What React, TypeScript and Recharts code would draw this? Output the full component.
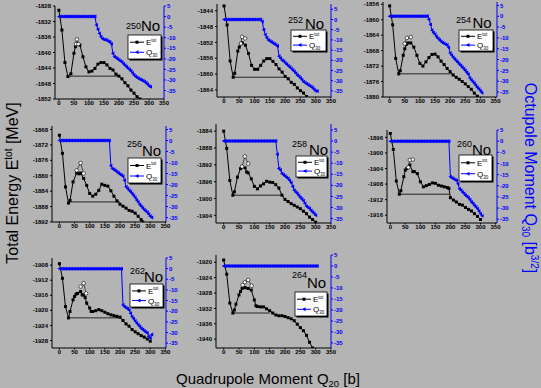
import React from 'react';
import { ComposedChart, Line, XAxis, YAxis } from 'recharts';

type Pt = [number, number];

/* ---------- shared axes ---------- */
const Q20_TICKS = [0, 50, 100, 150, 200, 250, 300, 350];
const Q30_TICKS = [5, 0, -5, -10, -15, -20, -25, -30, -35];
// Q30 curves are sampled on this Q20 grid
const Q20_GRID = [
  0, 5, 10, 15, 20, 25, 30, 35, 40, 45, 50, 55, 60, 65, 70, 75, 80, 85, 90, 95,
  100, 105, 110, 115, 120, 125, 130, 135, 140, 145, 150, 155, 160, 165, 170, 175, 180, 185, 190, 195,
  200, 205, 210, 215, 220, 225, 230, 235, 240, 245, 250, 255, 260, 265, 270, 275, 280, 285, 290, 295,
  300, 305,
];

/* ---------- 250No ---------- */
const E250_TICKS = [-1852, -1848, -1844, -1840, -1836, -1832, -1828];
const E250: Pt[] = [
  [0, -1829.1], [10, -1834.2], [20, -1842.6], [30, -1846.2], [40, -1845.5], [50, -1840.2], [55, -1838.5],
  [60, -1837.7], [70, -1838.1], [80, -1841.1], [90, -1843.7], [100, -1845], [110, -1844.8], [120, -1844.1],
  [130, -1843], [140, -1842.6], [150, -1842.6], [160, -1843.2], [170, -1844.1], [180, -1844.5], [190, -1845.6],
  [200, -1846.1], [210, -1846.8], [220, -1847.8], [230, -1848.6], [240, -1849.7], [250, -1850.5], [260, -1851.4],
  [270, -1852],
];
const E250_OPEN: Pt[] = [[57, -1837.8], [60, -1836.6], [65, -1837.8]];
const E250_FLAT: Pt[] = [[30, -1846.1], [202, -1846.1]];
const Q250 = [
  0, 0, 0, 0, 0, 0, 0, 0, 0, 0,
  0, 0, 0, 0, 0, 0, 0, 0, 0, 0,
  0, 0, 0, 0, 0,
  -4, -6, -8, -9.5, -10.5, -10.8, -11, -11.2, -11.8, -12,
  -13, -17.5, -19, -19.5, -20, -20.5, -21, -21.5, -22.3, -23,
  -23.8, -24.5, -25, -25.7, -26.7, -27.7, -28.3, -28.8, -29.3, -29.7,
  -30, -30.4, -30.8, -31.3, -32, -32.9, -33.2,
];

/* ---------- 252No ---------- */
const E252_TICKS = [-1864, -1860, -1856, -1852, -1848, -1844];
const E252: Pt[] = [
  [0, -1842.8], [10, -1847.6], [20, -1856.7], [30, -1860.8], [35, -1859.8], [45, -1854.2], [50, -1853.2],
  [55, -1852.3], [60, -1852.1], [70, -1852.7], [80, -1854.8], [90, -1857.8], [100, -1858.8], [110, -1858.8],
  [120, -1857.8], [130, -1856.7], [140, -1856.1], [150, -1856.1], [160, -1856.8], [170, -1857.6], [180, -1858.7],
  [190, -1859.5], [200, -1860.6], [210, -1861.2], [220, -1862.1], [230, -1862.6], [240, -1863.5], [250, -1864.2],
  [260, -1864.8], [270, -1865.7],
];
const E252_OPEN: Pt[] = [[55, -1852.3], [59, -1850.6], [69, -1851]];
const E252_FLAT: Pt[] = [[30, -1860.8], [200, -1860.8]];
const Q252 = [
  0, 0, 0, 0, 0, 0, 0, 0, 0, 0,
  0, 0, 0, 0, 0, 0, 0, 0, 0, 0,
  0, 0, 0, 0, 0,
  -1, -5, -7.5, -9, -10, -10.5, -11, -11.5, -12, -12.5,
  -13, -18, -19, -20, -20.5, -21.2, -22, -22.7, -23.3, -24,
  -24.7, -25.5, -26.3, -27.3, -28, -28.7, -29.5, -30.5, -31, -31.5,
  -32, -32.5, -33, -33.5, -34.3, -35, -35,
];

/* ---------- 254No ---------- */
const E254_TICKS = [-1880, -1876, -1872, -1868, -1864, -1860, -1856];
const E254: Pt[] = [
  [0, -1856.4], [10, -1861.3], [20, -1870], [30, -1874], [35, -1873.2], [45, -1869.2], [50, -1867.5],
  [55, -1866.4], [60, -1866], [70, -1866], [80, -1867.1], [90, -1869.2], [100, -1871.3], [110, -1872],
  [120, -1870.9], [130, -1869.8], [140, -1869], [150, -1868.9], [160, -1869.6], [170, -1870.7], [180, -1871.6],
  [190, -1872.6], [200, -1873.4], [210, -1874.3], [220, -1874.9], [230, -1875.4], [240, -1876], [250, -1876.6],
  [260, -1877.3], [270, -1878], [280, -1879], [290, -1879.8],
];
const E254_OPEN: Pt[] = [[50, -1866.2], [57, -1864.7], [70, -1864.5]];
const E254_FLAT: Pt[] = [[30, -1874], [208, -1874]];
const Q254 = [
  0, 0, 0, 0, 0, 0, 0, 0, 0, 0,
  0, 0, 0, 0, 0, 0, 0, 0, 0, 0,
  0, 0, 0, 0, 0, 0,
  -1.5, -3.8, -6.5, -7.6, -8.3, -9.5, -10.3, -11, -11.7, -12.2,
  -12.6, -13, -13.3, -14.4, -17, -18, -18.9, -19.7, -20.5, -21.2,
  -22, -22.8, -23.5, -24.3, -25, -26, -26.8, -28.5, -29.5, -30.3,
  -31, -32, -32.9, -33.6, -34.4, -35.3,
];

/* ---------- 256No ---------- */
const E256_TICKS = [-1892, -1888, -1884, -1880, -1876, -1872, -1868];
const E256: Pt[] = [
  [0, -1869.5], [10, -1874.2], [20, -1882.9], [30, -1887.1], [35, -1886.4], [45, -1881.6], [57, -1879.3],
  [65, -1879.5], [70, -1879.3], [80, -1880.7], [90, -1882.5], [100, -1884.6], [110, -1885.3], [120, -1884.8],
  [130, -1883.8], [140, -1882.2], [150, -1882.5], [160, -1882.7], [170, -1883.9], [180, -1885.3], [190, -1886.5],
  [200, -1887.4], [210, -1887.9], [220, -1888.4], [230, -1889], [240, -1889.2], [250, -1889.7], [260, -1890.5],
  [270, -1891.4], [275, -1892],
];
const E256_OPEN: Pt[] = [[57, -1878.6], [70, -1876.7], [80, -1879.4]];
const E256_FLAT: Pt[] = [[30, -1886.8], [200, -1886.8]];
const Q256 = [
  0, 0, 0, 0, 0, 0, 0, 0, 0, 0,
  0, 0, 0, 0, 0, 0, 0, 0, 0, 0,
  0, 0, 0, 0, 0, 0, 0, 0, 0, 0,
  0, 0, 0, 0,
  -11.5, -12.8, -13.2, -13.7, -14.2, -14.8, -15.3, -15.8, -16.2, -18,
  -21, -21.8, -22.6, -23.3, -24.1, -25, -25.9, -27, -27.9, -29,
  -29.8, -30.6, -31.4, -32, -32.6, -33.5, -34.4, -35,
];

/* ---------- 258No ---------- */
const E258_TICKS = [-1904, -1900, -1896, -1892, -1888, -1884];
const E258: Pt[] = [
  [0, -1884], [10, -1888.1], [20, -1895.7], [30, -1899.2], [35, -1898.4], [45, -1894.9], [55, -1892.9],
  [60, -1892.5], [70, -1892.7], [75, -1893.7], [80, -1893.9], [90, -1895.3], [100, -1897.1], [110, -1897.7],
  [120, -1897], [130, -1896.5], [140, -1895.9], [150, -1896.1], [160, -1896.2], [170, -1896.7], [180, -1897.5],
  [190, -1899.2], [200, -1900.2], [210, -1900.7], [220, -1901.2], [230, -1901.6], [240, -1902], [250, -1902.4],
  [260, -1903], [270, -1903.6], [280, -1904.4], [290, -1905], [300, -1905.6],
];
const E258_OPEN: Pt[] = [[60, -1892.4], [69, -1890], [80, -1891.7]];
const E258_FLAT: Pt[] = [[30, -1899.2], [188, -1899.2]];
const Q258 = [
  0, 0, 0, 0, 0, 0, 0, 0, 0, 0,
  0, 0, 0, 0, 0, 0, 0, 0, 0, 0,
  0, 0, 0, 0, 0, 0, 0, 0, 0, 0,
  0, 0, 0, 0, 0,
  -6, -12.4, -13.1, -14.6, -15.2, -15.8, -16.4, -16.9, -17.8, -18.8,
  -20.5, -22.2, -23, -23.7, -24.6, -25.5, -26.2, -27, -28.2, -29.4,
  -30, -30.5, -31.3, -32, -32.7, -33.5,
];

/* ---------- 260No ---------- */
const E260_TICKS = [-1916, -1912, -1908, -1904, -1900, -1896];
const E260: Pt[] = [
  [0, -1895], [10, -1899.1], [20, -1907.2], [30, -1910.6], [35, -1909.7], [45, -1906.1], [50, -1904.4],
  [55, -1904], [60, -1903.7], [65, -1903.1], [75, -1904.8], [80, -1904.8], [90, -1905.3], [100, -1907.4],
  [110, -1908.7], [120, -1908.4], [130, -1908.1], [140, -1907.7], [150, -1907.8], [160, -1908.3], [170, -1908.5],
  [180, -1908.7], [190, -1908.9], [195, -1909.1], [200, -1911.5], [210, -1912.1], [220, -1912.6], [230, -1913.2],
  [240, -1913.4], [250, -1914], [260, -1914.5], [270, -1914.9], [280, -1915.6], [290, -1916.3], [300, -1917.1],
];
const E260_OPEN: Pt[] = [[60, -1903.7], [65, -1901.8], [75, -1901.7]];
const E260_FLAT: Pt[] = [[30, -1910.6], [197, -1910.6]];
const Q260 = [
  0, 0, 0, 0, 0, 0, 0, 0, 0, 0,
  0, 0, 0, 0, 0, 0, 0, 0, 0, 0,
  0, 0, 0, 0, 0, 0, 0, 0, 0, 0,
  0, 0, 0, 0, 0, 0, 0, 0, 0, 0,
  -16, -16.5, -16.9, -17.3, -17.6, -19.1, -21.3, -22, -22.8, -23.5,
  -24.3, -24.8, -25.4, -26.3, -27.3, -28, -28.8, -29.5, -30.3, -31.3,
  -32.5, -33.5,
];

/* ---------- 262No ---------- */
const E262_TICKS = [-1928, -1924, -1920, -1916, -1912, -1908];
const E262: Pt[] = [
  [0, -1907.6], [10, -1911.5], [20, -1919], [30, -1922], [35, -1920.3], [45, -1917.2], [50, -1916.3],
  [55, -1915.7], [60, -1915.5], [70, -1915], [75, -1915.9], [80, -1915.9], [85, -1916.6], [90, -1918.1],
  [100, -1919.4], [105, -1920.3], [110, -1920.3], [120, -1920.1], [130, -1919.8], [140, -1920.1], [150, -1920.5],
  [160, -1920.9], [170, -1921.2], [180, -1921.4], [190, -1921.6], [200, -1921.8], [210, -1922.7], [220, -1923.6],
  [230, -1924.2], [240, -1925.1], [250, -1925.7], [260, -1926.2], [270, -1926.7], [280, -1927.1], [290, -1927.6],
  [300, -1928.2],
];
const E262_OPEN: Pt[] = [[70, -1913.7], [80, -1912.8], [88, -1915.5]];
const E262_FLAT: Pt[] = [[30, -1922], [205, -1922]];
const Q262 = [
  0, 0, 0, 0, 0, 0, 0, 0, 0, 0,
  0, 0, 0, 0, 0, 0, 0, 0, 0, 0,
  0, 0, 0, 0, 0, 0, 0, 0, 0, 0,
  0, 0, 0, 0, 0, 0, 0, 0, 0, 0,
  0, 0,
  -17.1, -17.9, -18.4, -18.9, -19.4, -21, -22.6, -23.6, -24.6, -25.5,
  -26.4, -27.2, -28, -28.6, -29.2, -29.8, -30.3, -31.9, -32.7, -31,
];

/* ---------- 264No ---------- */
const E264_TICKS = [-1940, -1936, -1932, -1928, -1924, -1920];
const E264: Pt[] = [
  [0, -1919.4], [10, -1923.1], [20, -1930.6], [30, -1933.2], [35, -1932.4], [40, -1930.9], [50, -1928.5],
  [55, -1927.6], [60, -1926.8], [70, -1926.6], [80, -1926.8], [90, -1927.2], [100, -1929.8], [105, -1931.3],
  [110, -1931.5], [120, -1931.6], [130, -1931.6], [140, -1932.1], [150, -1932.6], [160, -1933.2], [170, -1933.7],
  [180, -1933.9], [190, -1933.9], [200, -1934.1], [210, -1934.4], [220, -1934.7], [230, -1935.2], [240, -1936.1],
  [250, -1937], [260, -1937.8], [270, -1939], [280, -1940.8], [290, -1942.3],
];
const E264_OPEN: Pt[] = [[62, -1925.9], [69, -1925.2], [80, -1924.6], [91, -1926.1]];
const E264_FLAT: Pt[] = [[30, -1933.2], [150, -1933.2]];
const Q264 = [
  0, 0, 0, 0, 0, 0, 0, 0, 0, 0,
  0, 0, 0, 0, 0, 0, 0, 0, 0, 0,
  0, 0, 0, 0, 0, 0, 0, 0, 0, 0,
  0, 0, 0, 0, 0, 0, 0, 0, 0, 0,
  0, 0, 0, 0, 0, 0, 0, 0, 0, 0,
  0, 0, 0, 0, 0, 0, 0, 0, 0, 0,
  0, 0,
];

/* ---------- panel layout (pixel positions of each plot box) ---------- */
const PANELS = [
  { mass: '250', e: E250, open: E250_OPEN, flat: E250_FLAT, q: Q250, eTicks: E250_TICKS,
    eDomain: [-1852, -1828], qDomain: [-39, 5], xDomain: [-13, 350],
    left: 55, top: 6, w: 109, h: 93, sup: [126, 28.5], no: [141, 31], legend: [128, 35, 33, 24] },
  { mass: '252', e: E252, open: E252_OPEN, flat: E252_FLAT, q: Q252, eTicks: E252_TICKS,
    eDomain: [-1865.8, -1842.3], qDomain: [-38, 7.6], xDomain: [-23, 350],
    left: 217, top: 4, w: 114, h: 93, sup: [288, 22.5], no: [305, 28.5], legend: [291, 30, 35, 21] },
  { mass: '254', e: E254, open: E254_OPEN, flat: E254_FLAT, q: Q254, eTicks: E254_TICKS,
    eDomain: [-1880, -1855.4], qDomain: [-37.3, 6.6], xDomain: [-22, 355],
    left: 383, top: 2, w: 114, h: 95, sup: [456, 22.5], no: [472.5, 28], legend: [459, 30, 34, 21] },
  { mass: '256', e: E256, open: E256_OPEN, flat: E256_FLAT, q: Q256, eTicks: E256_TICKS,
    eDomain: [-1892, -1867.1], qDomain: [-37, 6.6], xDomain: [-24.5, 352],
    left: 52, top: 126, w: 114, h: 96, sup: [127, 147], no: [142, 156], legend: [128, 158, 33, 25] },
  { mass: '258', e: E258, open: E258_OPEN, flat: E258_FLAT, q: Q258, eTicks: E258_TICKS,
    eDomain: [-1905.8, -1882.3], qDomain: [-37, 7.7], xDomain: [-25, 350],
    left: 216, top: 124, w: 115, h: 99, sup: [292, 147], no: [309, 155], legend: [296, 156, 31, 21] },
  { mass: '260', e: E260, open: E260_OPEN, flat: E260_FLAT, q: Q260, eTicks: E260_TICKS,
    eDomain: [-1918, -1894.1], qDomain: [-36.7, 5], xDomain: [-11, 355],
    left: 387, top: 130, w: 110, h: 93, sup: [457, 147], no: [472, 154.5], legend: [459, 155, 33, 26] },
  { mass: '262', e: E262, open: E262_OPEN, flat: E262_FLAT, q: Q262, eTicks: E262_TICKS,
    eDomain: [-1930, -1906.1], qDomain: [-37.3, 5], xDomain: [-24.5, 352],
    left: 52, top: 258, w: 114, h: 90, sup: [130, 273.5], no: [144, 282], legend: [130, 284, 33, 23] },
  { mass: '264', e: E264, open: E264_OPEN, flat: E264_FLAT, q: Q264, eTicks: E264_TICKS,
    eDomain: [-1942.3, -1918.1], qDomain: [-37.3, 5], xDomain: [-25, 350],
    left: 216, top: 255, w: 115, h: 93, sup: [292, 278], no: [307, 288], legend: [295, 292, 32, 24] },
];

const BLUE = '#0000ff';
const BG = '#b4b4b4';
const FONT = '"Liberation Sans", Arial, sans-serif';

const toRows = (pts: Pt[]) => pts.map(([x, y]) => ({ x, y }));
const gridRows = (vals: number[]) =>
  Q20_GRID.map((x, i) => ({ x, y: vals[i] })).filter(r => r.y !== undefined && r.y !== null);

const squareDot = (p: any) =>
  p.cx == null ? null : (
    <rect key={`s${p.index}`} x={p.cx - 1.5} y={p.cy - 1.5} width={3} height={3} fill="#000" />
  );
const openDot = (p: any) =>
  p.cx == null ? null : (
    <circle key={`o${p.index}`} cx={p.cx} cy={p.cy} r={1.8} fill="#fff" stroke="#000" strokeWidth={0.6} />
  );
const triDot = (p: any) =>
  p.cx == null ? null : (
    <polygon
      key={`t${p.index}`}
      points={`${p.cx - 2},${p.cy} ${p.cx + 1.5},${p.cy - 2} ${p.cx + 1.5},${p.cy + 2}`}
      fill={BLUE}
    />
  );

const tickStyle = { fontSize: 6, fontWeight: 700, fill: '#000', fontFamily: FONT };

function Panel({ p }: { p: (typeof PANELS)[number] }) {
  const AXL = 30;
  const AXR = 22;
  const TOP = 4;
  const XH = 12;
  return (
    <div style={{ position: 'absolute', left: p.left - AXL, top: p.top - TOP }}>
      <ComposedChart
        width={AXL + p.w + AXR}
        height={TOP + p.h + XH}
        margin={{ top: TOP, right: 0, bottom: 0, left: 0 }}
      >
        <XAxis
          xAxisId="b"
          dataKey="x"
          type="number"
          domain={p.xDomain}
          ticks={Q20_TICKS}
          interval={0}
          allowDataOverflow
          height={XH}
          stroke="#000"
          tickSize={1.5}
          tickMargin={0.5}
          tick={tickStyle}
        />
        <XAxis
          xAxisId="t"
          orientation="top"
          dataKey="x"
          type="number"
          domain={p.xDomain}
          allowDataOverflow
          height={0}
          tick={false}
          tickLine={false}
          stroke="#000"
        />
        <YAxis
          yAxisId="e"
          type="number"
          domain={p.eDomain}
          ticks={p.eTicks}
          interval={0}
          allowDataOverflow
          width={AXL}
          stroke="#000"
          tickSize={2}
          tickMargin={2}
          tick={tickStyle}
        />
        <YAxis
          yAxisId="q"
          orientation="right"
          type="number"
          domain={p.qDomain}
          ticks={Q30_TICKS}
          interval={0}
          allowDataOverflow
          width={AXR}
          stroke={BLUE}
          tickSize={2}
          tickMargin={1}
          tick={{ ...tickStyle, fill: BLUE }}
        />
        <Line
          xAxisId="b"
          yAxisId="e"
          data={toRows(p.flat)}
          dataKey="y"
          type="linear"
          stroke="#000"
          strokeWidth={0.8}
          dot={false}
          isAnimationActive={false}
        />
        <Line
          xAxisId="b"
          yAxisId="e"
          data={toRows(p.e)}
          dataKey="y"
          type="linear"
          stroke="#000"
          strokeWidth={1}
          dot={squareDot}
          activeDot={false}
          isAnimationActive={false}
        />
        <Line
          xAxisId="b"
          yAxisId="e"
          data={toRows(p.open)}
          dataKey="y"
          type="linear"
          stroke="#000"
          strokeWidth={0.6}
          dot={openDot}
          activeDot={false}
          isAnimationActive={false}
        />
        <Line
          xAxisId="b"
          yAxisId="q"
          data={gridRows(p.q)}
          dataKey="y"
          type="linear"
          stroke={BLUE}
          strokeWidth={1}
          dot={triDot}
          activeDot={false}
          isAnimationActive={false}
        />
      </ComposedChart>
    </div>
  );
}

function LegendBox({ box }: { box: number[] }) {
  const [x, y, w, h] = box;
  const r1 = y + h * 0.3;
  const r2 = y + h * 0.72;
  return (
    <g>
      <rect x={x + 1.5} y={y + 1.5} width={w} height={h} fill="#000" />
      <rect x={x} y={y} width={w} height={h} fill="#fff" stroke="#000" strokeWidth={0.8} />
      <line x1={x + 2} x2={x + 16} y1={r1} y2={r1} stroke="#000" strokeWidth={1} />
      <rect x={x + 7.5} y={r1 - 1.5} width={3} height={3} fill="#000" />
      <text x={x + 18} y={r1 + 3} fontSize={8} fill="#000">
        E<tspan fontSize={4.5} dy={-3.5}>tot</tspan>
      </text>
      <line x1={x + 2} x2={x + 16} y1={r2} y2={r2} stroke={BLUE} strokeWidth={1} />
      <polygon points={`${x + 7},${r2} ${x + 10.5},${r2 - 2} ${x + 10.5},${r2 + 2}`} fill={BLUE} />
      <text x={x + 18} y={r2 + 3} fontSize={8} fill="#000">
        Q<tspan fontSize={4.5} dy={2}>30</tspan>
      </text>
    </g>
  );
}

export default function App() {
  return (
    <div
      style={{
        position: 'absolute',
        left: 0,
        top: 0,
        width: 541,
        height: 388,
        background: BG,
        overflow: 'hidden',
        fontFamily: FONT,
      }}
    >
      {PANELS.map(p => (
        <Panel key={p.mass} p={p} />
      ))}
      <svg
        width={541}
        height={388}
        style={{ position: 'absolute', left: 0, top: 0, pointerEvents: 'none', fontFamily: FONT }}
      >
        {PANELS.map(p => (
          <g key={`lab${p.mass}`}>
            <text x={p.sup[0]} y={p.sup[1]} fontSize={9} fill="#000">{p.mass}</text>
            <text x={p.no[0]} y={p.no[1]} fontSize={15} fill="#000">No</text>
            <LegendBox box={p.legend} />
          </g>
        ))}
        <text transform="translate(17.5,183) rotate(-90)" textAnchor="middle" fontSize={16} fill="#000">
          Total Energy E<tspan fontSize={10} dy={-6}>tot</tspan>
          <tspan dy={6}> [MeV]</tspan>
        </text>
        <text transform="translate(525,178) rotate(90)" textAnchor="middle" fontSize={16} fill={BLUE}>
          Octupole Moment Q<tspan fontSize={10} dy={3}>30</tspan>
          <tspan dy={-3}> [b</tspan>
          <tspan fontSize={10} dy={-6}>3/2</tspan>
          <tspan dy={6}>]</tspan>
        </text>
        <text x={176} y={384} fontSize={15} fill="#000">
          Quadrupole Moment Q<tspan fontSize={9.5} dy={3}>20</tspan>
          <tspan dy={-3}> [b]</tspan>
        </text>
      </svg>
    </div>
  );
}
